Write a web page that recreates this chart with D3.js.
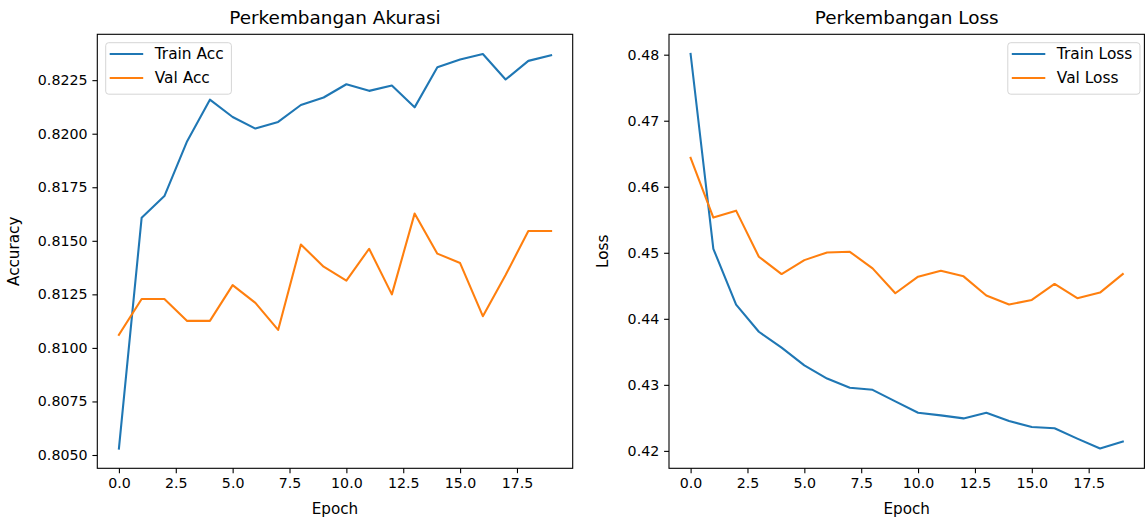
<!DOCTYPE html>
<html>
<head>
<meta charset="utf-8">
<script src="https://cdn.jsdelivr.net/npm/d3@7"></script>
<style>
  body { margin: 0; background: #fff; }
  svg text { font-family: "DejaVu Sans", sans-serif; fill: #000; }
</style>
</head>
<body>
<div id="canvas"></div>
<script>
// epochs 0..19
var epochs = d3.range(20);

var trainAcc = [0.8053, 0.81608, 0.81709, 0.81965, 0.82159, 0.82078, 0.82024, 0.82055, 0.82134, 0.82169,
                0.82231, 0.82200, 0.82225, 0.82123, 0.82310, 0.82346, 0.82372, 0.82253, 0.82340, 0.82366];
var valAcc   = [0.81061, 0.81228, 0.81228, 0.81126, 0.81126, 0.81293, 0.81210, 0.81084, 0.81483, 0.81379,
                0.81314, 0.81463, 0.81250, 0.81627, 0.81440, 0.81396, 0.81148, 0.81340, 0.81546, 0.81546];
var trainLoss = [0.4801, 0.4506, 0.44216, 0.43804, 0.43563, 0.43296, 0.43095, 0.42955, 0.42925, 0.42749,
                 0.42578, 0.42538, 0.42492, 0.42578, 0.42452, 0.42362, 0.42342, 0.42186, 0.42035, 0.42141];
var valLoss   = [0.46437, 0.45533, 0.45638, 0.4494, 0.44678, 0.44889, 0.45005, 0.45015, 0.44764, 0.44387,
                 0.44638, 0.44729, 0.44643, 0.44352, 0.44216, 0.44286, 0.44528, 0.44312, 0.44397, 0.44678];

var xTicks = [0, 2.5, 5, 7.5, 10, 12.5, 15, 17.5];
var accTicks = [0.8050, 0.8075, 0.8100, 0.8125, 0.8150, 0.8175, 0.8200, 0.8225];
var lossTicks = [0.42, 0.43, 0.44, 0.45, 0.46, 0.47, 0.48];

var blue = "#1f77b4", orange = "#ff7f0e";

var svg = d3.select("#canvas").append("svg")
    .attr("width", 1147).attr("height", 517);

function panel(opts) {
    var left = opts.left, top = 34.3, width = 475.4, height = 434;
    var g = svg.append("g").attr("transform", "translate(" + left + "," + top + ")");

    var x = d3.scaleLinear().domain([-0.95, 19.95]).range([0, width]);
    var all = opts.series[0].values.concat(opts.series[1].values);
    var ext = d3.extent(all), pad = (ext[1] - ext[0]) * 0.05;
    var y = d3.scaleLinear().domain([ext[0] - pad, ext[1] + pad]).range([height, 0]);

    // axes
    var xa = g.append("g").attr("transform", "translate(0," + height + ")")
        .call(d3.axisBottom(x).tickValues(xTicks).tickFormat(d3.format(".1f"))
            .tickSizeOuter(0).tickSize(4.9).tickPadding(4.9));
    var ya = g.append("g")
        .call(d3.axisLeft(y).tickValues(opts.yTicks).tickFormat(d3.format(opts.yFormat))
            .tickSizeOuter(0).tickSize(4.9).tickPadding(4.9));
    [xa, ya].forEach(function(a) {
        a.select(".domain").remove();
        a.selectAll("line").attr("stroke", "#000").attr("stroke-width", 1.1);
        a.selectAll("text").style("font-size", "14.2px").style("font-family", "DejaVu Sans, sans-serif").attr("fill", "#000");
    });

    // lines
    var line = d3.line().x(function(d, i) { return x(epochs[i]); }).y(function(d) { return y(d); });
    opts.series.forEach(function(s) {
        g.append("path").datum(s.values)
            .attr("fill", "none").attr("stroke", s.color)
            .attr("stroke-width", 2.08).attr("stroke-linejoin", "round").attr("stroke-linecap", "square")
            .attr("d", line);
    });

    // frame
    g.append("rect").attr("width", width).attr("height", height)
        .attr("fill", "none").attr("stroke", "#000").attr("stroke-width", 1.1);

    // title and labels
    g.append("text").text(opts.title)
        .attr("x", width / 2).attr("y", -10)
        .style("font-size", "18.4px").style("text-anchor", "middle");
    g.append("text").text("Epoch")
        .attr("x", width / 2).attr("y", height + 46)
        .style("font-size", "15.2px").style("text-anchor", "middle");
    g.append("text").text(opts.yLabel)
        .attr("transform", "translate(" + opts.yLabelX + "," + height / 2 + ") rotate(-90)")
        .style("font-size", "15.2px").style("text-anchor", "middle");

    // legend
    var lg = g.append("g").attr("transform", "translate(" + opts.legendX + ",8.4)");
    lg.append("rect").attr("width", opts.legendW).attr("height", 51.5)
        .attr("rx", 3).attr("fill", "#fff").attr("fill-opacity", 0.8)
        .attr("stroke", "#d5d5d5").attr("stroke-width", 1);
    opts.series.forEach(function(s, i) {
        var yy = 11.3 + i * 24;
        lg.append("line").attr("x1", 4).attr("x2", 37.5).attr("y1", yy).attr("y2", yy)
            .attr("stroke", s.color).attr("stroke-width", 2.08);
        lg.append("text").text(s.name).attr("x", 49).attr("y", yy + 5.3)
            .style("font-size", "15.4px");
    });
}

panel({
    left: 97.3, title: "Perkembangan Akurasi", yLabel: "Accuracy", yLabelX: -78,
    yTicks: accTicks, yFormat: ".4f", legendX: 8.4, legendW: 125.7,
    series: [{name: "Train Acc", values: trainAcc, color: blue},
             {name: "Val Acc", values: valAcc, color: orange}]
});
panel({
    left: 669, title: "Perkembangan Loss", yLabel: "Loss", yLabelX: -61,
    yTicks: lossTicks, yFormat: ".2f", legendX: 338.8, legendW: 132.2,
    series: [{name: "Train Loss", values: trainLoss, color: blue},
             {name: "Val Loss", values: valLoss, color: orange}]
});
</script>
</body>
</html>
